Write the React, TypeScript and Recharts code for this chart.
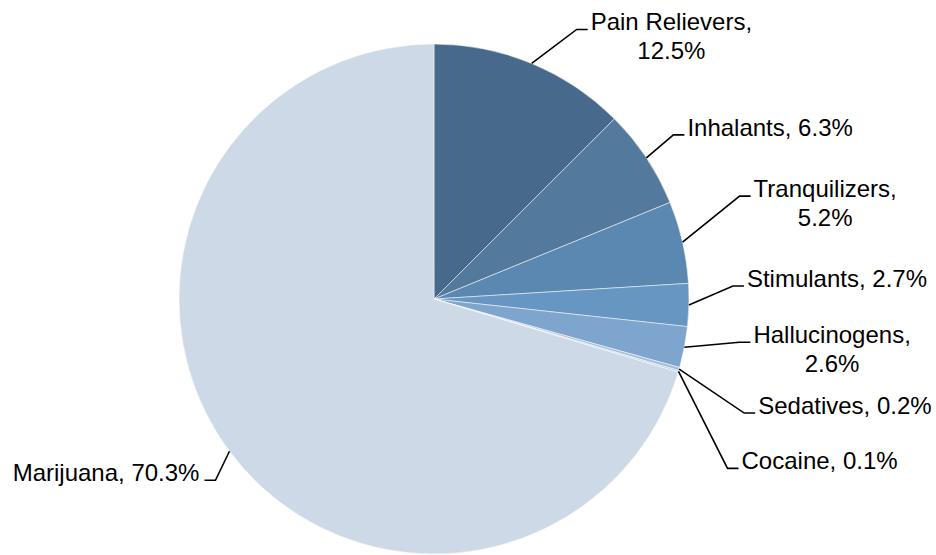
import { Cell, Pie, PieChart } from 'recharts';

// Share of past-year initiates by drug (%), clockwise from 12 o'clock.
const DRUGS = ['Pain Relievers', 'Inhalants', 'Tranquilizers', 'Stimulants', 'Hallucinogens', 'Sedatives', 'Cocaine', 'Marijuana'];
const SHARES = [12.5, 6.3, 5.2, 2.7, 2.6, 0.2, 0.1, 70.3];
// Whether the label wraps after the comma.
const WRAPPED = [true, false, true, false, true, false, false, false];

const COLORS = ['#476A8C', '#53799D', '#5B88B1', '#6796C3', '#7EA5CE', '#A3BEDB', '#B9CDE3', '#CDD9E7'];

// Leader-line elbow offsets from the slice edge, tuned by eye.
const ELBOWS: [number, number][] = [
  [45, -34], [27, -23], [57, -46], [44, -19], [55, -5], [65, 44], [49, 97], [-14, 29],
];

const FONT = "24px 'Liberation Sans', Arial, sans-serif";
const RADIAN = Math.PI / 180;

const data = DRUGS.map((name, i) => ({ name, value: SHARES[i] }));

let ctx: CanvasRenderingContext2D | null = null;
function textWidth(s: string): number {
  if (!ctx) ctx = document.createElement('canvas').getContext('2d');
  if (!ctx) return s.length * 11;
  ctx.font = FONT;
  return ctx.measureText(s).width;
}

function renderLabel(props: any) {
  const { cx, cy, midAngle, outerRadius, index } = props;
  const sx = cx + outerRadius * Math.cos(-midAngle * RADIAN);
  const sy = cy + outerRadius * Math.sin(-midAngle * RADIAN);
  const [dx, dy] = ELBOWS[index];
  const ex = sx + dx;
  const ey = sy + dy;
  const right = dx >= 0;
  const hx = ex + (right ? 11 : -11);
  const pct = `${SHARES[index].toFixed(1)}%`;
  const first = WRAPPED[index] ? `${DRUGS[index]},` : `${DRUGS[index]}, ${pct}`;
  const tx = hx + (right ? 3 : -5);
  const w = textWidth(first);
  return (
    <g key={`lbl-${index}`}>
      <polyline points={`${sx},${sy} ${ex},${ey} ${hx},${ey}`} fill="none" stroke="#000" strokeWidth={1.6} />
      <text x={tx} y={ey + 1} textAnchor={right ? 'start' : 'end'} fill="#000" style={{ font: FONT }}>
        {first}
      </text>
      {WRAPPED[index] && (
        <text x={tx + w / 2} y={ey + 30} textAnchor="middle" fill="#000" style={{ font: FONT }}>
          {pct}
        </text>
      )}
    </g>
  );
}

export default function App() {
  return (
    <div style={{ position: 'absolute', left: 0, top: 0, width: 936, height: 555, background: '#fff' }}>
      <PieChart width={936} height={555} margin={{ top: 0, right: 0, bottom: 0, left: 0 }}>
        <Pie
          data={data}
          dataKey="value"
          nameKey="name"
          cx={434}
          cy={299}
          outerRadius={255}
          startAngle={90}
          endAngle={-270}
          stroke="#ffffff"
          strokeOpacity={0.5}
          strokeWidth={1}
          label={renderLabel}
          labelLine={false}
          isAnimationActive={false}
        >
          {data.map((d, i) => (
            <Cell key={d.name} fill={COLORS[i]} />
          ))}
        </Pie>
      </PieChart>
    </div>
  );
}
